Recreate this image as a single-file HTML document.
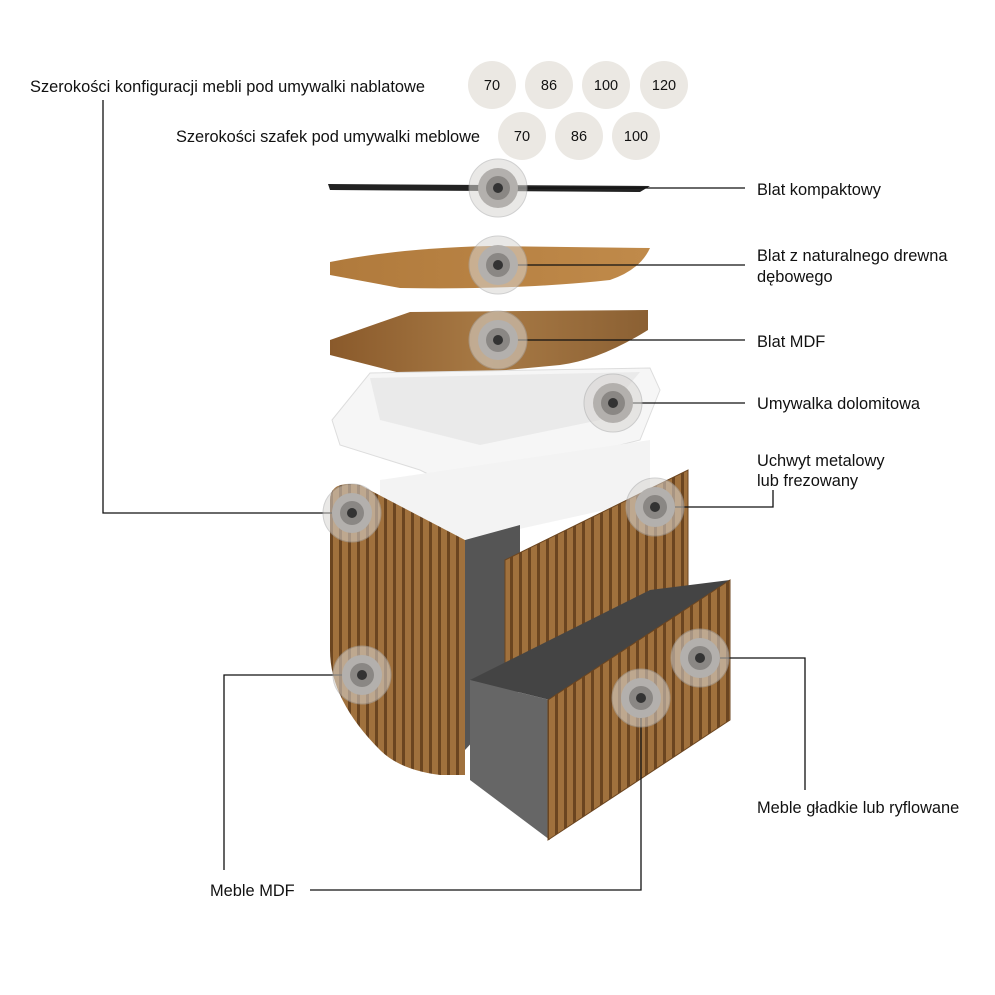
<!DOCTYPE html>
<html><head><meta charset="utf-8"><style>
html,body{margin:0;padding:0;background:#fff}
svg{display:block}
text{font-family:"Liberation Sans",sans-serif;fill:#111}
</style></head><body>
<svg width="995" height="995" viewBox="0 0 995 995">
<defs>
<linearGradient id="oak" x1="0" x2="1" y1="0" y2="0">
<stop offset="0" stop-color="#8a5a2b"/><stop offset="0.5" stop-color="#a87a45"/><stop offset="1" stop-color="#8b6033"/></linearGradient>
<linearGradient id="oak2" x1="0" x2="1"><stop offset="0" stop-color="#b07a3c"/><stop offset="1" stop-color="#c08a4a"/></linearGradient>
<pattern id="flute" width="9" height="10" patternUnits="userSpaceOnUse">
<rect width="9" height="10" fill="#a0713d"/><rect x="6" width="3" height="10" fill="#6b4520"/></pattern>
<g id="tg"><circle r="29" fill="#d8d6d3" opacity="0.55" stroke="#aaa" stroke-width="1"/><circle r="20" fill="#b3b0ad"/><circle r="12" fill="#8a8784"/><circle r="5" fill="#333"/></g>
</defs>
<g font-size="14.5" text-anchor="middle">
<circle cx="492" cy="85" r="24" fill="#ebe8e3"/><text x="492" y="90">70</text>
<circle cx="549" cy="85" r="24" fill="#ebe8e3"/><text x="549" y="90">86</text>
<circle cx="606" cy="85" r="24" fill="#ebe8e3"/><text x="606" y="90">100</text>
<circle cx="664" cy="85" r="24" fill="#ebe8e3"/><text x="664" y="90">120</text>
<circle cx="522" cy="136" r="24" fill="#ebe8e3"/><text x="522" y="141">70</text>
<circle cx="579" cy="136" r="24" fill="#ebe8e3"/><text x="579" y="141">86</text>
<circle cx="636" cy="136" r="24" fill="#ebe8e3"/><text x="636" y="141">100</text>
</g>
<g font-size="16.4">
<text x="30" y="92" textLength="395">Szerokości konfiguracji mebli pod umywalki nablatowe</text>
<text x="176" y="142" textLength="304">Szerokości szafek pod umywalki meblowe</text>
<text x="757" y="195">Blat kompaktowy</text>
<text x="757" y="261">Blat z naturalnego drewna</text>
<text x="757" y="282">dębowego</text>
<text x="757" y="347">Blat MDF</text>
<text x="757" y="409">Umywalka dolomitowa</text>
<text x="757" y="466">Uchwyt metalowy</text>
<text x="757" y="486">lub frezowany</text>
<text x="757" y="813">Meble gładkie lub ryflowane</text>
<text x="210" y="896">Meble MDF</text>
</g>
<path d="M328 184 L650 186 L640 192 L330 190 Z" fill="#222"/>
<path d="M330 262 Q400 248 490 246 L650 248 Q640 270 610 280 Q520 290 400 288 L330 275 Z" fill="url(#oak2)"/>
<path d="M330 340 L410 312 L648 310 L648 330 Q600 360 560 365 L420 378 L330 355 Z" fill="url(#oak)"/>
<path d="M332 420 L370 373 L650 368 L660 390 L640 440 L560 460 L470 495 L420 470 L340 445 Z" fill="#f6f6f6" stroke="#ddd"/>
<path d="M370 378 L640 372 L600 420 L480 445 L380 420 Z" fill="#eaeaea"/>
<path d="M380 480 L650 440 L650 500 L470 540 L380 520 Z" fill="#f3f3f3"/>
<path d="M330 500 Q330 480 360 485 L465 540 L465 775 L440 775 Q400 770 380 750 Q330 700 330 650 Z" fill="url(#flute)"/>
<path d="M465 540 L520 525 L520 690 L465 750 Z" fill="#555"/>
<path d="M505 560 L688 470 L688 600 L505 680 Z" fill="url(#flute)" stroke="#6b4520"/>
<path d="M470 680 L650 590 L730 580 L550 700 Z" fill="#444"/>
<path d="M470 680 L550 700 L550 840 L470 780 Z" fill="#666"/>
<path d="M548 700 L730 580 L730 720 L548 840 Z" fill="url(#flute)" stroke="#6b4520"/>
<g stroke="#111" stroke-width="1.3" fill="none">
<path d="M498 188 H745"/><path d="M498 265 H745"/><path d="M498 340 H745"/><path d="M613 403 H745"/>
<path d="M655 507 H773 V490"/>
<path d="M352 513 H103 V100"/>
<path d="M700 658 H805 V790"/>
<path d="M641 698 V890 H310"/>
<path d="M362 675 H224 V870"/>
</g>
<use href="#tg" x="498" y="188"/><use href="#tg" x="498" y="265"/><use href="#tg" x="498" y="340"/>
<use href="#tg" x="613" y="403"/><use href="#tg" x="655" y="507"/><use href="#tg" x="352" y="513"/>
<use href="#tg" x="700" y="658"/><use href="#tg" x="641" y="698"/><use href="#tg" x="362" y="675"/>
</svg>
</body></html>
